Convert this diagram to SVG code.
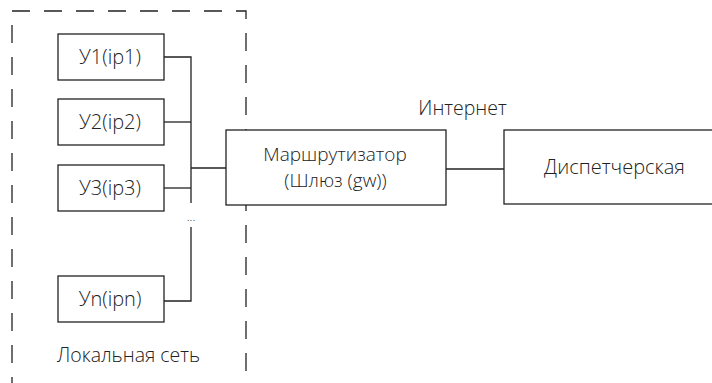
<svg xmlns="http://www.w3.org/2000/svg" width="712" height="383" viewBox="0 0 712 383">
<style>
.box{fill:#fff;stroke:#222;stroke-width:1.3}
.ln{fill:none;stroke:#222;stroke-width:1.3}
.dash{fill:none;stroke:#222;stroke-width:1.3;stroke-dasharray:18 14}
text{font-family:"Open Sans","Noto Sans",sans-serif;font-size:20px;font-weight:300;fill:#222}
.c{text-anchor:middle}
.r{font-size:19px}
</style>
<rect width="712" height="383" fill="#fff"/>
<g id="local-net">
<path class="dash" d="M12,395 L12,11 L246,11 L246,395"/>
<text x="57" y="362" style="font-size:19.5px">Локальная сеть</text>
</g>
<g id="connectors">
<path class="ln" d="M164,57 H191 V203"/>
<path class="ln" d="M164,122 H191"/>
<path class="ln" d="M164,188 H191"/>
<path class="ln" d="M191,168 H226"/>
<path class="ln" d="M191,227 V301 H164"/>
<path class="ln" d="M446,169 H504"/>
<text class="c" x="191" y="221" style="font-size:12px">...</text>
<text class="c" x="462.5" y="115" style="font-size:19.5px">Интернет</text>
</g>
<g id="u1"><rect class="box" x="58" y="34" width="106" height="46"/><text class="c" x="110" y="64">У1(ip1)</text></g>
<g id="u2"><rect class="box" x="58" y="99" width="106" height="46"/><text class="c" x="110" y="129">У2(ip2)</text></g>
<g id="u3"><rect class="box" x="58" y="165" width="106" height="46"/><text class="c" x="110" y="195">У3(ip3)</text></g>
<g id="un"><rect class="box" x="58" y="276" width="106" height="46"/><text class="c" x="110" y="306">Уn(ipn)</text></g>
<g id="router"><rect class="box" x="226" y="130" width="220" height="75"/><text class="c r" x="335" y="160.5">Маршрутизатор</text><text class="c r" x="335.5" y="187">(Шлюз (gw))</text></g>
<g id="dispatch"><rect class="box" x="504" y="130" width="220" height="74"/><text class="c" x="614.5" y="174">Диспетчерская</text></g>
</svg>
